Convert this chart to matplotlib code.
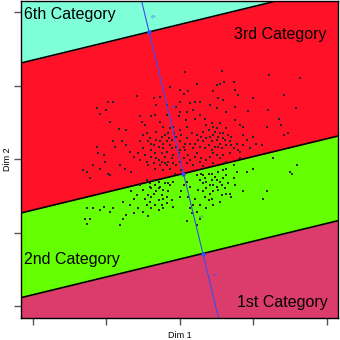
"""
Ordinal regression map: category regions over Dim 1 / Dim 2 with observations
"""
import numpy as np
import matplotlib.pyplot as plt

plt.rcParams["font.family"] = ["Liberation Sans", "DejaVu Sans"]

# direction of the ordinal predictor and the cutpoints between categories
coef = [-0.236, 0.972]
cutpoints = [-1.323, -0.203, 1.780]
band_labels = ["1st Category", "2nd Category", "3rd Category", "6th Category"]
band_colors = ["#DC3C6C", "#64FF00", "#FF1128", "#7FFFD8"]

# scores along the predictor where the level numbers are written
level_labels = ["1", "2", "3", "6"]
level_scores = [-1.61, -0.80, 0.74, 2.00]

dim1 = [
    0.07, 0.57, 1.21, 1.63, 0.23, 0.50, 0.54, 0.60, 0.73, -0.14, 0.00, 0.05, 0.11, 0.75,
    0.45, 0.79, 0.20, 0.27, 0.41, 0.52, 0.59, 1.00, 1.41, -0.27, -0.36, -0.98, -0.91,
    -1.13, -1.01, -0.58, -0.32, -0.18, -0.05, 0.00, 0.14, 0.50, 0.63, 0.75, 0.93, 1.20, 1.58,
    -1.09, -0.95, -0.83, -0.73, -0.55, -0.52, -0.48, -0.39, -0.34, -0.27, -0.17, -0.09,
    0.00, -0.02, 0.09, 0.08, 0.18, 0.20, 0.27, 0.34, 0.43, 0.36, 0.45, 0.50, 0.54, 0.59,
    0.63, 0.75, 0.82, 0.86, 1.18, 1.38, 1.41, 1.47, 1.35, 1.00, 0.86, 0.70,
    -0.50, -0.45, -0.41, -0.39, -0.36, -0.32, -0.29, -0.27, -0.25, -0.23, -0.20, -0.18,
    -0.17, -0.15, -0.14, -0.11, -0.10, -0.08, -0.07, -0.05, -0.02, 0.00, 0.02, 0.05, 0.07,
    0.09, 0.11, 0.14, 0.16, 0.18, 0.20, 0.23, 0.25, 0.27, 0.29, 0.32, 0.36, 0.39, 0.41,
    0.43, 0.45, 0.48, 0.50, 0.52, 0.54, 0.57, 0.59, 0.63, 0.66, 0.68, 0.73, 0.77, 0.82,
    0.86, 0.91, 0.95, 1.04, 1.11, 0.82, 0.79,
    -0.91, -0.88, -0.79, -0.73, -0.68, -0.63, -0.57, -0.54, -0.48, -0.45, -0.43, -0.39,
    -0.36, -0.34, -0.32, -0.27, -0.25, -0.23, -0.20, -0.18, -0.16, -0.14, -0.09, -0.07,
    -0.05, 0.00, 0.02, 0.05, 0.09, 0.14, 0.18, 0.20, 0.27, 0.32, 0.36, 0.41, 0.45, 0.54,
    0.59, 0.63, 0.68, 0.45, 0.50, -1.13, -1.11, -1.04, -1.02, -1.18, -1.32, -1.27, -1.22,
    -1.09, -0.98, -0.95, -0.82, -0.75, -0.66,
    -0.45, -0.41, -0.39, -0.36, -0.34, -0.32, -0.29, -0.27, -0.25, -0.23, -0.20, -0.18,
    -0.16, -0.14, -0.11, -0.09, -0.43, -0.41, -0.48, -0.39, -0.34, -0.29, -0.25, -0.18,
    -0.50, -0.54, -0.59, -0.63, -0.68, -0.77, -0.66, -0.57, -0.63, -0.73, -0.77, -0.82,
    -0.91, -0.95, -1.04, -1.09, -1.18, -1.27, -1.29, -1.22, -1.27, -0.50, -0.43, -0.39,
    -0.29, -0.23, -0.09, 0.00,
    0.23, 0.27, 0.29, 0.32, 0.34, 0.36, 0.39, 0.41, 0.43, 0.45, 0.48, 0.50, 0.52, 0.54,
    0.57, 0.59, 0.61, 0.63, 0.66, 0.68, 0.73, 0.75, 0.32, 0.34, 0.39, 0.43, 0.25, 0.20,
    0.18, 0.23, 0.27, 0.23, 0.16, 0.09, 0.14, 0.45, 0.54, 0.63, 0.70, 0.86, 0.91, 1.00,
    1.13, 1.18, 1.27, 1.50, 1.59, 1.52, 0.73, 0.77, 0.63, 0.59, 0.27, 0.36, 0.09, 0.14,
    0.05, 0.02, 0.11,
    -0.43, -0.34, -0.23, -0.16, -0.11, -0.05, 0.00, 0.07, -0.29, -0.20, -0.11, -0.25,
    -0.39, -0.50, -0.54, -0.32, -0.23, -0.14, 0.00, 0.09,
    0.32, 0.39, 0.48, 0.54, 0.34, 0.43, 0.52, 0.61, 0.70, 0.23, 0.29,
    -0.36, -0.29, -0.23, -0.41, -0.16, -0.45,
    0.36, 0.45, 0.52, 0.41, 0.57, 0.32, 0.43, 0.50,
]
dim2 = [
    1.19, 1.20, 1.14, 1.10, 1.02, 1.01, 1.02, 1.05, 1.05, 0.98, 0.94, 0.89, 0.92, 0.94,
    0.92, 0.87, 0.78, 0.78, 0.73, 0.83, 0.80, 0.83, 0.87, 0.85, 0.83, 0.77, 0.77,
    0.70, 0.67, 0.86, 0.73, 0.73, 0.71, 0.78, 0.76, 0.69, 0.64, 0.71, 0.66, 0.67, 0.70,
    0.61, 0.51, 0.41, 0.39, 0.59, 0.51, 0.46, 0.58, 0.60, 0.51, 0.60, 0.44,
    0.64, 0.58, 0.64, 0.53, 0.67, 0.55, 0.60, 0.55, 0.49, 0.46, 0.44, 0.42, 0.49, 0.35,
    0.42, 0.53, 0.46, 0.44, 0.44, 0.46, 0.33, 0.35, 0.55, 0.30, 0.33, 0.30,
    0.33, 0.35, 0.28, 0.21, 0.19, 0.26, 0.17, 0.24, 0.30, 0.15, 0.33, 0.24,
    0.10, 0.28, 0.19, 0.15, 0.05, 0.35, 0.30, 0.17, 0.08, 0.24, 0.33, 0.17, 0.12,
    0.28, 0.05, 0.21, 0.35, 0.15, 0.21, 0.33, 0.26, 0.17, 0.30, 0.24, 0.28, 0.19, 0.30,
    0.24, 0.33, 0.17, 0.26, 0.30, 0.21, 0.15, 0.28, 0.19, 0.33, 0.24, 0.15, 0.21, 0.10,
    0.19, 0.26, 0.15, 0.21, 0.19, 0.01, 0.12,
    0.24, 0.17, 0.24, 0.19, 0.10, 0.03, 0.08, -0.01, 0.05, -0.04, -0.08, 0.03,
    -0.06, -0.13, 0.01, -0.08, -0.04, -0.15, 0.03, -0.08, -0.04, -0.13, -0.06, -0.20,
    -0.08, -0.04, -0.15, 0.01, -0.06, -0.01, -0.08, 0.03, -0.04, -0.10, -0.01, 0.03, -0.06, 0.01,
    0.05, -0.04, 0.08, 0.08, 0.05, 0.17, 0.08, 0.05, -0.04, -0.08, -0.15, -0.17, -0.26,
    -0.13, -0.20, -0.22, -0.08, -0.13, -0.17,
    -0.29, -0.33, -0.40, -0.29, -0.35, -0.44, -0.31, -0.38, -0.49, -0.42, -0.33, -0.51,
    -0.44, -0.35, -0.56, -0.31, -0.49, -0.58, -0.54, -0.51, -0.63, -0.56, -0.63, -0.60,
    -0.42, -0.35, -0.49, -0.54, -0.63, -0.58, -0.44, -0.67, -0.74, -0.76, -0.81, -0.90,
    -0.67, -0.72, -0.65, -0.69, -0.67, -0.67, -0.81, -0.81, -0.88, -0.72, -0.78, -0.67,
    -0.69, -0.67, -0.65, -0.51,
    -0.22, -0.29, -0.20, -0.33, -0.26, -0.40, -0.20, -0.35, -0.29, -0.44, -0.24, -0.38,
    -0.17, -0.31, -0.49, -0.26, -0.40, -0.22, -0.33, -0.47, -0.26, -0.35, -0.44, -0.51,
    -0.56, -0.54, -0.42, -0.54, -0.63, -0.72, -0.81, -0.90, -0.74, -0.85, -0.67, -0.63,
    -0.58, -0.47, -0.51, -0.44, -0.17, -0.13, -0.54, -0.44, 0.01, -0.17, -0.08, -0.20,
    -0.08, -0.17, -0.13, -0.15, -0.63, -0.67, -0.31, -0.38, -0.35, -0.44, -0.51,
    0.24, 0.08, 0.21, 0.35, 0.26, 0.30, 0.12, 0.21, -0.01, -0.06, 0.01, 0.08,
    0.12, 0.15, 0.24, 0.37, 0.44, 0.42, 0.39, 0.44,
    0.37, 0.39, 0.37, 0.35, 0.15, 0.12, 0.17, 0.26, 0.19, 0.08, 0.01,
    -0.47, -0.40, -0.54, -0.38, -0.33, -0.63,
    -0.31, -0.35, -0.42, -0.47, -0.35, -0.22, -0.20, -0.29,
]

xlim = (-2.163, 2.150)
ylim = (-2.163, 2.150)

fig = plt.figure(figsize=(3.4, 3.4), dpi=100)
ax = fig.add_axes([21 / 340, 22 / 340, 317 / 340, 317 / 340])

# category regions: lines coef . p = cut
xs = np.array(xlim)
edges = [np.full(2, ylim[0] - 5)]
edges += [(c - coef[0] * xs) / coef[1] for c in cutpoints]
edges += [np.full(2, ylim[1] + 5)]
for i, col in enumerate(band_colors):
    ax.fill_between(xs, edges[i], edges[i + 1], color=col, lw=0, zorder=1)
for c in cutpoints:
    ax.plot(xs, (c - coef[0] * xs) / coef[1], color="black", lw=1.2, zorder=2)

# observations
ax.scatter(dim1, dim2, s=0.9, marker="s", c="#262626", linewidths=0, zorder=3)

# predictor axis through the origin
t = np.array([-3.0, 3.0])
ax.plot(t * coef[0], t * coef[1], color="#3A4CF0", lw=0.8, zorder=4)
cut_arr = np.array(cutpoints)
ax.plot(cut_arr * coef[0], cut_arr * coef[1], ls="none", marker="o", ms=2.2,
        color="#3A4CF0", zorder=5)
for lab, sc in zip(level_labels, level_scores):
    ax.text(sc * coef[0] + 0.08, sc * coef[1], lab, color="#3A4CF0", fontsize=3.5,
            rotation=-76, ha="center", va="center", zorder=5)

# category names
ax.text(-2.12, 1.97, band_labels[3], fontsize=11.5, ha="left", va="center", zorder=6)
ax.text(2.00, 1.70, band_labels[2], fontsize=11.5, ha="right", va="center", zorder=6)
ax.text(-2.12, -1.37, band_labels[1], fontsize=11.5, ha="left", va="center", zorder=6)
ax.text(2.01, -1.95, band_labels[0], fontsize=11.5, ha="right", va="center", zorder=6)

ax.set_xlim(xlim)
ax.set_ylim(ylim)
ax.set_xticks([-2, -1, 0, 1, 2])
ax.set_yticks([-2, -1, 0, 1, 2])
ax.set_xticklabels([])
ax.set_yticklabels([])
ax.tick_params(direction="out", length=5, width=1, color="#555555")
for sp in ax.spines.values():
    sp.set_linewidth(1.0)
    sp.set_zorder(7)

fig.text(180 / 340, 1 - 335 / 340, "Dim 1", fontsize=6.5, ha="center", va="center")
fig.text(8 / 340, 1 - 159 / 340, "Dim 2", fontsize=6.5, ha="center", va="center",
         rotation=90)

fig.savefig("out.png", dpi=100)
